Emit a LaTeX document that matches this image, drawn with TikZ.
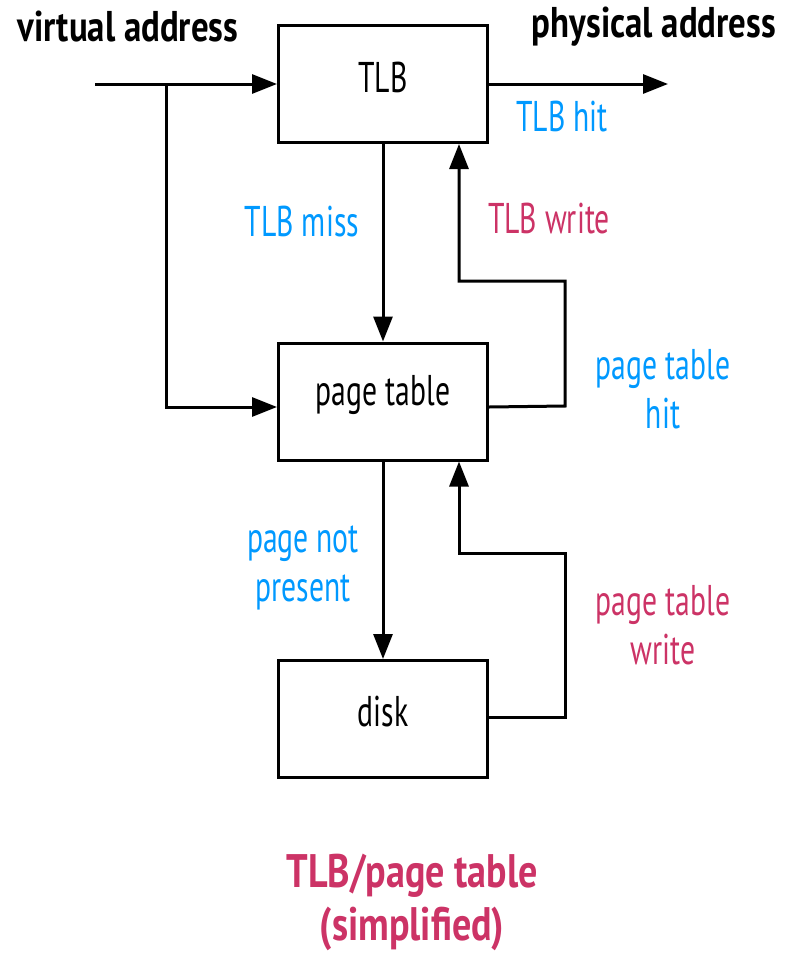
\documentclass[tikz,border=0pt]{standalone}
\usepackage{fontspec}
\setmainfont{PT Sans}[FakeStretch=0.69]
\newfontfamily\headfont{PT Sans}[FakeStretch=0.81]
\usetikzlibrary{arrows.meta}
\definecolor{hitblue}{RGB}{0,153,255}
\definecolor{writered}{RGB}{204,51,102}
\tikzset{
  unit/.style={draw, line width=3pt, minimum width=209pt, minimum height=117pt,
    inner sep=0pt},
  flow/.style={line width=3pt, -{Triangle[length=25pt,width=19pt]}},
  lbl/.style={font=\fontsize{43}{49}\selectfont, align=center, inner sep=0pt},
  head/.style={font=\headfont\bfseries\fontsize{43}{48}\selectfont, align=center, inner sep=0pt},
  caption/.style={font=\headfont\bfseries\fontsize{47}{53}\selectfont, align=center, inner sep=0pt},
}
\begin{document}
\begin{tikzpicture}[x=1pt, y=-1pt]
\useasboundingbox (0,0) rectangle (792,954);

% units
\node[unit] (tlb) at (383,84) {};
\node[lbl] (tlbt) at (383,77) {TLB};
\node[unit] (pt) at (383,401.5) {};
\node[lbl] (ptt) at (383,395) {page table};
\node[unit] (disk) at (383,719) {};
\node[lbl] (diskt) at (383,712) {disk};

% address headings
\node[head] (va) at (128,27) {virtual address};
\node[head] (pa) at (654,27) {physical address};

% virtual address input, split to TLB and page table
\coordinate (vin) at (95,84);
\coordinate (split) at (166,84);
\coordinate (out) at (668,84);
\draw[flow] (vin) -- (tlb.west);
\draw[flow] (split) |- ([yshift=-5.5pt]pt.west);
\draw[flow] (tlb.east) -- (out);

% miss paths
\draw[flow] (tlb.south) -- (pt.north);
\draw[flow] (pt.south) -- (disk.north);

% TLB write back loop
\coordinate (w1) at (565,406);
\coordinate (w2) at (565,281);
\coordinate (w3) at (459,281);
\draw[flow] ([yshift=-5.5pt]pt.east) -- (w1) -- (w2) -- (w3) -- (w3 |- tlb.south);

% page table write back loop
\coordinate (d1) at (565,717);
\coordinate (d2) at (565,553);
\coordinate (d3) at (459,553);
\draw[flow] ([yshift=2pt]disk.east) -- (d1) -- (d2) -- (d3) -- (d3 |- pt.south);

% labels
\node[lbl, text=hitblue] (lhit) at (562,117) {TLB hit};
\node[lbl, text=hitblue] (lmiss) at (302,222) {TLB miss};
\node[lbl, text=writered] (lwr) at (549,219) {TLB write};
\node[lbl, text=hitblue] (lpth) at (663,389) {page table\\hit};
\node[lbl, text=hitblue] (lnp) at (303,568) {page not\\present};
\node[lbl, text=writered] (lptw) at (663,625) {page table\\write};

% caption
\node[caption, text=writered] (cap) at (412,902) {TLB/page table\\(simplified)};
\end{tikzpicture}
\end{document}
